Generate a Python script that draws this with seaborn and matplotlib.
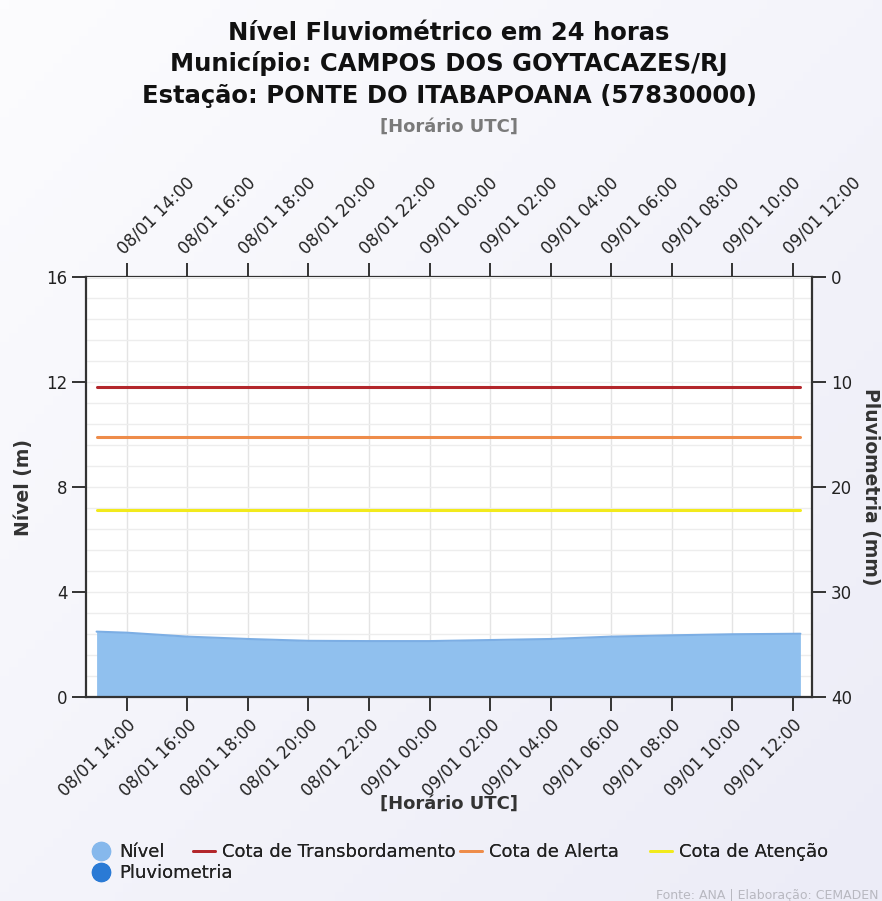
import numpy as np
import pandas as pd
import matplotlib
matplotlib.use("Agg")
import matplotlib.pyplot as plt
import matplotlib.dates as mdates
from matplotlib.lines import Line2D
from matplotlib.colors import LinearSegmentedColormap
import seaborn as sns

# ---------------- data ----------------
nivel_times = ["2025-01-08 13:00", "2025-01-08 14:00", "2025-01-08 16:00", "2025-01-08 18:00",
               "2025-01-08 20:00", "2025-01-08 22:00", "2025-01-09 00:00", "2025-01-09 02:00",
               "2025-01-09 04:00", "2025-01-09 06:00", "2025-01-09 08:00", "2025-01-09 10:00",
               "2025-01-09 12:15"]
nivel_values = [2.49, 2.45, 2.30, 2.21, 2.14, 2.13, 2.13, 2.17, 2.21, 2.30, 2.35, 2.39, 2.41]
cota_transbordamento = 11.8
cota_alerta = 9.9
cota_atencao = 7.12
tick_times = ["2025-01-08 14:00", "2025-01-08 16:00", "2025-01-08 18:00", "2025-01-08 20:00",
              "2025-01-08 22:00", "2025-01-09 00:00", "2025-01-09 02:00", "2025-01-09 04:00",
              "2025-01-09 06:00", "2025-01-09 08:00", "2025-01-09 10:00", "2025-01-09 12:00"]
x_limits = ["2025-01-08 12:39", "2025-01-09 12:38"]
left_ticks = [0, 4, 8, 12, 16]
right_ticks = [0, 10, 20, 30, 40]
legend_labels = ["Nível", "Pluviometria", "Cota de Transbordamento", "Cota de Alerta", "Cota de Atenção"]

# ---------------- frame ----------------
t = pd.to_datetime(nivel_times)
df = pd.DataFrame({"time": t, "nivel": nivel_values})
df["transb"] = cota_transbordamento
df["alerta"] = cota_alerta
df["atencao"] = cota_atencao

sns.set_theme(style="white")
plt.rcParams["font.family"] = ["DejaVu Sans"]

BG = "#f3f3fa"
TXT = "#222222"
fig = plt.figure(figsize=(8.82, 9.01), dpi=100, facecolor=BG)

# soft gradient background
bgax = fig.add_axes([0, 0, 1, 1], zorder=-10)
cm = LinearSegmentedColormap.from_list("bg", ["#fcfcfe", "#ececf7"])
bgax.imshow(np.add.outer(np.linspace(0, 0.5, 100), np.linspace(0, 0.5, 100)), cmap=cm,
            aspect="auto", extent=[0, 1, 0, 1], origin="upper")
bgax.axis("off")

ax = fig.add_axes([86/882, 1-697/901, (812-86)/882, (697-277)/901])
ax.set_facecolor("white")

nivel_color = "#90c0ee"
ax.fill_between(df["time"], 0, df["nivel"], color=nivel_color, linewidth=0, zorder=2)
sns.lineplot(data=df, x="time", y="nivel", ax=ax, color="#7caee4", linewidth=1.5, zorder=3, legend=False)
sns.lineplot(data=df, x="time", y="transb", ax=ax, color="#b3262b", linewidth=2.2, zorder=4, legend=False)
sns.lineplot(data=df, x="time", y="alerta", ax=ax, color="#ee8c4a", linewidth=2.2, zorder=4, legend=False)
sns.lineplot(data=df, x="time", y="atencao", ax=ax, color="#f2ea1c", linewidth=2.2, zorder=4, legend=False)

xl = pd.to_datetime(x_limits)
ax.set_xlim(xl[0], xl[1])
ax.set_ylim(0, 16)
ax.set_yticks(left_ticks)
ax.set_yticks(np.arange(0, 16.01, 0.8), minor=True)
ticks = pd.to_datetime(tick_times)
ax.set_xticks(ticks)
fmt = mdates.DateFormatter("%d/%m %H:%M")
ax.xaxis.set_major_formatter(fmt)
ax.grid(True, which="both", axis="y", color="#ededed", linewidth=1, zorder=0)
ax.grid(True, which="major", axis="x", color="#e4e4e4", linewidth=1, zorder=0)
ax.set_axisbelow(True)

for s in ["left", "bottom", "right", "top"]:
    ax.spines[s].set_color("#333333")
    ax.spines[s].set_linewidth(1.6)
ax.spines["top"].set_visible(False)
ax.spines["right"].set_visible(False)

ax.tick_params(axis="both", which="major", direction="out", length=10, width=1.4, color="#333333",
               labelsize=12, labelcolor=TXT, left=True, bottom=True)
ax.tick_params(axis="y", which="minor", length=0)
plt.setp(ax.get_xticklabels(), rotation=45, ha="right", va="top", rotation_mode="anchor")
ax.set_xlabel("[Horário UTC]", fontsize=13, fontweight="bold", color="#333333")
ax.xaxis.set_label_coords(0.5, -0.232)
ax.set_ylabel("Nível (m)", fontsize=13.5, fontweight="bold", color="#333333", labelpad=9)

# right axis
ax2 = ax.twinx()
ax2.set_ylim(40, 0)
ax2.set_yticks(right_ticks)
for s in ["left", "bottom", "top"]:
    ax2.spines[s].set_visible(False)
ax2.spines["right"].set_color("#333333")
ax2.spines["right"].set_linewidth(1.6)
ax2.tick_params(axis="y", direction="out", length=10, width=1.4, color="#333333", labelsize=12,
                labelcolor=TXT)
ax2.set_ylabel("Pluviometria (mm)", fontsize=13.5, fontweight="bold", color="#333333", rotation=270,
               labelpad=20)
ax2.grid(False)

# top axis
ax3 = ax.secondary_xaxis("top")
ax3.set_xticks(ticks)
ax3.xaxis.set_major_formatter(fmt)
ax3.spines["top"].set_color("#333333")
ax3.spines["top"].set_linewidth(1.6)
ax3.tick_params(axis="x", direction="out", length=10, width=1.4, color="#333333", labelsize=12,
                labelcolor=TXT)
plt.setp(ax3.get_xticklabels(), rotation=45, ha="left", va="bottom", rotation_mode="anchor")

# titles
for ytxt, s in [(33, "Nível Fluviométrico em 24 horas"),
                (64, "Município: CAMPOS DOS GOYTACAZES/RJ"),
                (96, "Estação: PONTE DO ITABAPOANA (57830000)")]:
    fig.text(449/882, 1-ytxt/901, s, ha="center", va="center",
             fontsize=17.5, fontweight="bold", color="#111111")
fig.text(449/882, 1-127/901, "[Horário UTC]", ha="center", va="center",
         fontsize=13, fontweight="bold", color="#7a7a7a")

# legend (each item placed like the original's flowing legend)
handles = [
    Line2D([], [], marker="o", linestyle="none", markersize=13, color="#86b8ec"),
    Line2D([], [], marker="o", linestyle="none", markersize=13, color="#2a7ad5"),
    Line2D([], [], color="#b3262b", linewidth=2),
    Line2D([], [], color="#ee8c4a", linewidth=2),
    Line2D([], [], color="#f2ea1c", linewidth=2),
]
legend_pos = [(90, 852), (90, 873), (193, 852), (460, 852), (650, 852)]
for h, lab, (px, py) in zip(handles, legend_labels, legend_pos):
    leg = fig.legend(handles=[h], labels=[lab], loc="center left", bbox_to_anchor=(px/882, 1-py/901),
                     frameon=False, fontsize=13, handlelength=1.2, handletextpad=0.4,
                     borderpad=0, borderaxespad=0, labelcolor=TXT)
    fig.add_artist(leg)

fig.text(879/882, 1-895/901, "Fonte: ANA | Elaboração: CEMADEN", ha="right", va="center",
         fontsize=9, color="#b8b8c0")

fig.savefig("out.png", dpi=100, facecolor=BG)
